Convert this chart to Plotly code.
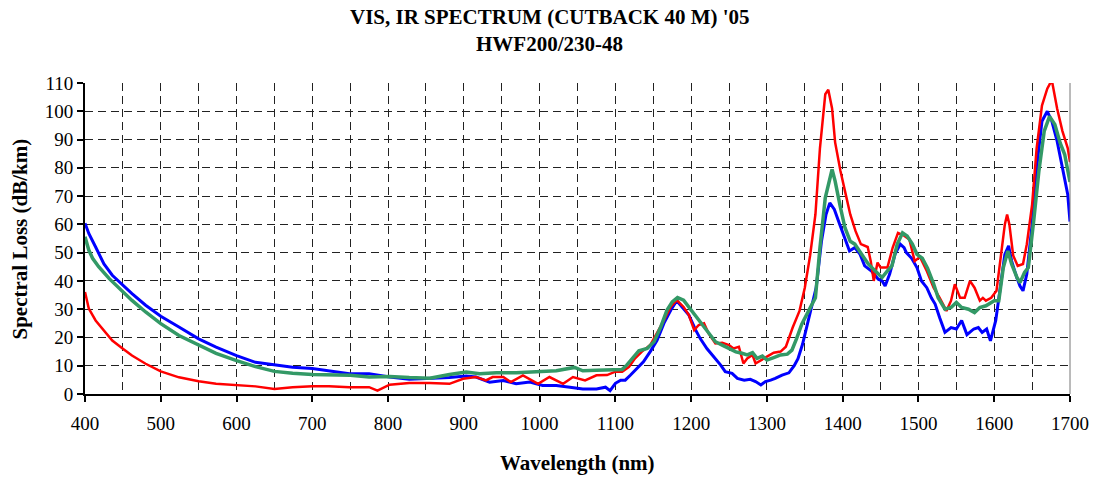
import plotly.graph_objects as go

# ---- data ----
red_wl = [400, 405, 414, 425, 436, 450, 462, 480, 500, 524, 550, 573, 600, 625, 650, 674, 700, 722, 749, 775,
          786, 802, 828, 855, 881, 899, 916, 929, 938, 952, 962, 978, 998, 1013, 1031, 1044, 1060, 1075, 1089,
          1100, 1109, 1118, 1126, 1135, 1146, 1155, 1164, 1173, 1181, 1190, 1197, 1204, 1210, 1217, 1223, 1232,
          1241, 1250, 1256, 1263, 1269, 1274, 1281, 1285, 1292, 1300, 1309, 1318, 1325, 1334, 1343, 1350, 1357,
          1364, 1370, 1377, 1381, 1386, 1390, 1397, 1404, 1410, 1417, 1424, 1433, 1437, 1441, 1446, 1450, 1459,
          1466, 1473, 1481, 1488, 1495, 1502, 1511, 1520, 1528, 1537, 1543, 1548, 1555, 1561, 1568, 1574, 1581,
          1585, 1589, 1596, 1603, 1609, 1614, 1617, 1620, 1625, 1631, 1638, 1643, 1650, 1656, 1663, 1670, 1676,
          1683, 1690, 1697, 1700]
red_loss = [36.1, 30.2, 26, 22.5, 18.9, 16, 13.6, 10.7, 8, 5.9, 4.5, 3.6, 3, 2.7, 1.8, 2.4, 2.7, 2.7, 2.4, 2.4,
            1.2, 3.3, 3.9, 3.9, 3.6, 5.4, 6, 4.8, 6, 6, 4.2, 6.6, 3.6, 6, 3.6, 6, 4.8, 6.6, 6.7,
            7.9, 7.9, 9.6, 12.6, 15, 17.3, 21.4, 26, 30.8, 33.2, 30.8, 27.9, 22.6, 24.4, 25, 21.4, 17.9,
            18.1, 17.3, 16.1, 16.7, 10.8, 12.6, 13.8, 10.8, 12, 13.2, 14.6, 15, 16.7, 23.5, 29.4, 37.6, 49,
            63.5, 87, 106, 107.6, 101, 89, 79, 70.6, 63.5, 57.6, 53, 52, 47, 40, 46.5, 44.7, 44.7,
            51.8, 57, 56, 54.7, 47, 48.5, 43.5, 37.6, 34, 29.4, 33, 38.8, 34, 34, 40, 37.6, 33,
            34, 33, 34, 36.5, 49, 60, 63.5, 60, 49, 45.3, 46, 53, 67, 87, 102, 108, 111,
            101, 93, 87, 82]

blue_wl = [400, 405, 414, 425, 436, 450, 462, 480, 500, 524, 550, 573, 600, 625, 650, 674, 700, 722, 749, 775,
           802, 828, 855, 881, 903, 916, 934, 952, 969, 987, 1004, 1022, 1040, 1057, 1075, 1087, 1093, 1100,
           1107, 1113, 1120, 1129, 1137, 1146, 1155, 1164, 1173, 1181, 1188, 1197, 1206, 1212, 1221, 1230,
           1239, 1245, 1254, 1261, 1270, 1278, 1285, 1292, 1298, 1305, 1311, 1320, 1329, 1336, 1341, 1347,
           1356, 1365, 1372, 1378, 1383, 1389, 1396, 1403, 1409, 1416, 1423, 1429, 1438, 1447, 1452, 1456,
           1462, 1469, 1476, 1481, 1484, 1491, 1498, 1504, 1511, 1517, 1522, 1528, 1535, 1543, 1550, 1557,
           1564, 1573, 1579, 1584, 1590, 1595, 1602, 1608, 1614, 1619, 1623, 1630, 1634, 1638, 1643, 1650,
           1656, 1663, 1670, 1676, 1683, 1690, 1697, 1700]
blue_loss = [60.4, 56.8, 52, 46, 42, 38.5, 35.5, 31.4, 27.5, 23.7, 19.5, 16.6, 13.6, 11.2, 10.4, 9.5, 9, 8.1, 7.2, 7.2,
             6, 5.2, 5.4, 5.8, 6.4, 6, 4.2, 4.8, 3.6, 4.2, 3, 3, 2.4, 1.8, 1.8, 2.4, 1.2, 3.8,
             4.9, 4.9, 6.7, 9, 11.4, 15, 19, 25, 29.6, 33, 30.8, 27.9, 22.6, 19.6, 16, 13.2,
             10.2, 7.9, 7.3, 5.5, 4.9, 5.2, 4.4, 3.2, 4.4, 4.9, 5.5, 6.7, 7.5, 10, 12.5, 17.6,
             28, 37.6, 54, 63.5, 67.6, 65.3, 60, 55.3, 50.6, 51.8, 49.4, 45.3, 43.5, 40.6, 40, 38.2,
             42.4, 49.4, 53, 51.8, 50, 48, 44.7, 40, 37.6, 34, 31.8, 27, 21.8, 23.5, 23, 26,
             21, 23, 23.5, 21.8, 23, 18.8, 26, 37.6, 49.4, 52.4, 47, 41, 38.2, 36.5, 42.4, 60,
             80, 96.5, 100, 96.5, 89.4, 80, 70.6, 61]

green_wl = [400, 405, 410, 418, 432, 443, 450, 462, 480, 500, 524, 550, 573, 600, 625, 650, 674, 700, 727, 750,
            775, 802, 828, 855, 881, 903, 921, 943, 969, 996, 1022, 1046, 1057, 1075, 1100, 1109, 1115, 1124,
            1131, 1142, 1151, 1160, 1168, 1175, 1182, 1190, 1197, 1206, 1217, 1226, 1232, 1241, 1250, 1259,
            1267, 1274, 1281, 1287, 1294, 1300, 1309, 1318, 1327, 1333, 1339, 1346, 1355, 1364, 1370, 1377,
            1386, 1390, 1397, 1403, 1410, 1416, 1425, 1434, 1443, 1452, 1459, 1465, 1472, 1479, 1485, 1492,
            1498, 1505, 1512, 1520, 1526, 1535, 1543, 1550, 1557, 1566, 1574, 1581, 1589, 1600, 1606, 1612,
            1618, 1623, 1630, 1634, 1640, 1645, 1652, 1659, 1666, 1673, 1680, 1687, 1693, 1700]
green_loss = [55.6, 50.9, 48, 45, 40.8, 37.9, 36.1, 33.1, 29, 24.9, 20.7, 17.2, 14.4, 11.8, 9.7, 8, 7.3, 6.9, 6.6, 6.6,
              6, 6.2, 5.8, 5.6, 6.9, 7.8, 7.2, 7.5, 7.5, 7.8, 8.2, 9.4, 8.2, 8.4, 8.6, 8.7, 10.2, 13.2,
              15.3, 16.1, 18.5, 23.8, 29.6, 32.6, 34.1, 33.2, 30.8, 27.3, 23.8, 20.8, 18.5, 17.3, 16.1, 14.9,
              14.4, 13.8, 14.6, 12.6, 13.4, 12, 12.9, 13.8, 14.1, 15.5, 19.5, 24.7, 29.4, 34, 51.8, 69.4,
              79.4, 75.3, 66, 58.8, 54, 53, 49.4, 45.9, 43.5, 41.2, 43.5, 45.3, 53, 57, 55.9, 53,
              49.4, 48, 44.5, 39, 34, 30, 30.6, 32.4, 30.6, 30, 28.8, 30.6, 31.2, 33, 33, 44.7,
              50.6, 45.9, 41.2, 39.4, 43, 44.7, 61, 79, 93, 98.2, 95.3, 88.8, 84.7, 75]

x_tick_vals = [400, 500, 600, 700, 800, 900, 1000, 1100, 1200, 1300, 1400, 1500, 1600, 1700]
y_tick_vals = [0, 10, 20, 30, 40, 50, 60, 70, 80, 90, 100, 110]

title_lines = ["VIS, IR SPECTRUM (CUTBACK 40 M) '05", "HWF200/230-48"]
x_title = "Wavelength (nm)"
y_title = "Spectral Loss (dB/km)"

FONT = "Liberation Serif"

fig = go.Figure()
fig.add_trace(go.Scatter(x=blue_wl, y=blue_loss, mode="lines",
                         line=dict(color="#0000FF", width=3), showlegend=False))
fig.add_trace(go.Scatter(x=red_wl, y=red_loss, mode="lines",
                         line=dict(color="#FF0000", width=2.5), showlegend=False))
fig.add_trace(go.Scatter(x=green_wl, y=green_loss, mode="lines",
                         line=dict(color="#339966", width=3.5), showlegend=False))

grid_dash = "8px,5px"

fig.update_layout(
    width=1093, height=477,
    paper_bgcolor="white", plot_bgcolor="white",
    margin=dict(l=85, r=23, t=83, b=83, autoexpand=False),
    font=dict(family=FONT, color="black"),
)

# title lines (bold, two rows)
fig.add_annotation(text="<b>" + title_lines[0] + "</b>", xref="paper", yref="paper",
                   x=0.472, y=1.212, xanchor="center", yanchor="middle", showarrow=False,
                   font=dict(family=FONT, size=21, color="black"))
fig.add_annotation(text="<b>" + title_lines[1] + "</b>", xref="paper", yref="paper",
                   x=0.472, y=1.125, xanchor="center", yanchor="middle", showarrow=False,
                   font=dict(family=FONT, size=21, color="black"))

fig.update_xaxes(
    range=[400, 1700], tickvals=x_tick_vals, automargin=False,
    tickfont=dict(family=FONT, size=19, color="black"), ticklabelstandoff=5,
    showgrid=True, gridcolor="#222222", gridwidth=1, griddash=grid_dash,
    minor=dict(dtick=50, tick0=400, showgrid=True, gridcolor="#222222", gridwidth=1, griddash=grid_dash),
    showline=True, linecolor="black", linewidth=2,
    ticks="outside", ticklen=6, tickwidth=1.5, tickcolor="black",
    zeroline=False,
)
fig.update_yaxes(
    range=[0, 110], tickvals=y_tick_vals, automargin=False,
    tickfont=dict(family=FONT, size=19, color="black"),
    showgrid=True, gridcolor="#222222", gridwidth=1, griddash=grid_dash,
    showline=True, linecolor="black", linewidth=2,
    ticks="outside", ticklen=6, tickwidth=1.5, tickcolor="black",
    zeroline=False,
)

# axis titles placed as annotations to match the reference positions
fig.add_annotation(text="<b>" + x_title + "</b>", xref="paper", yref="paper",
                   x=0.5, y=-0.223, xanchor="center", yanchor="middle", showarrow=False,
                   font=dict(family=FONT, size=21, color="black"))
fig.add_annotation(text="<b>" + y_title + "</b>", xref="paper", yref="paper",
                   x=-0.066, y=0.5, xanchor="center", yanchor="middle", showarrow=False,
                   textangle=-90, font=dict(family=FONT, size=21, color="black"))

fig.add_shape(type="line", xref="paper", yref="paper", x0=1, x1=1, y0=0, y1=1,
              line=dict(color="#777777", width=1))

fig.write_html("out.html")
